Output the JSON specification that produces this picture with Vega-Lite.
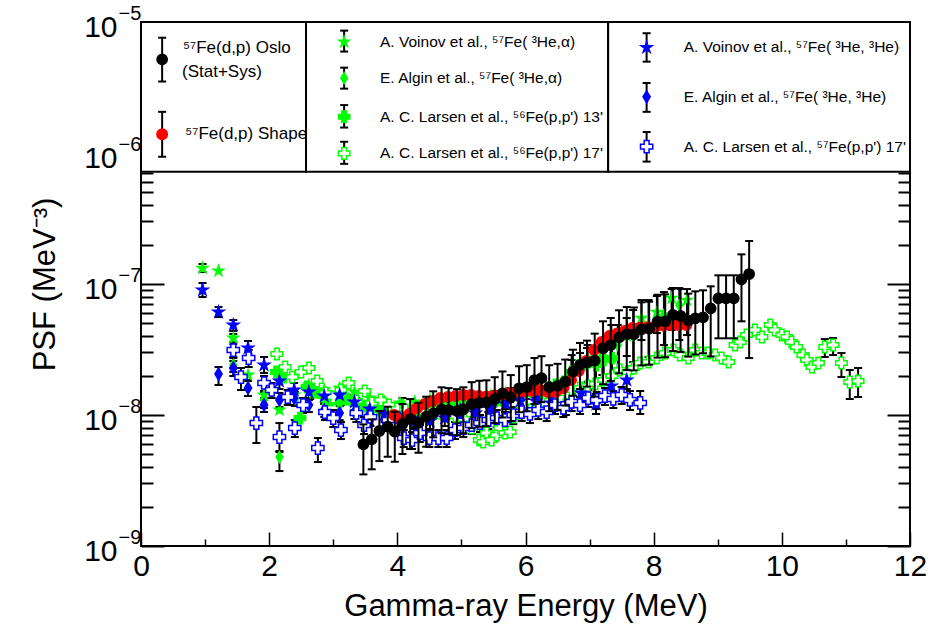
{
  "$schema": "https://vega.github.io/schema/vega-lite/v6.json",
  "width": 769,
  "height": 524,
  "autosize": {"type": "none"},
  "padding": {"left": 141, "top": 22, "right": 20, "bottom": 83},
  "background": "white",
  "config": {
    "view": {"stroke": "black", "strokeWidth": 2},
    "font": "Liberation Sans",
    "axis": {"labelFont": "Liberation Sans", "titleFont": "Liberation Sans", "labelColor": "black", "titleColor": "black", "tickColor": "black"}
  },
  "datasets": {
    "pts": [
      {"s":"va","E":0.96,"v":1.32e-7,"lo":1.235e-7,"hi":1.421e-7},{"s":"va","E":1.21,"v":1.26e-7},{"s":"va","E":1.44,"v":3.87e-8,"lo":3.61e-8,"hi":4.15e-8},{"s":"va","E":1.67,"v":2.019e-8},{"s":"va","E":1.92,"v":1.421e-8},{"s":"va","E":2.16,"v":1.092e-8},{"s":"va","E":2.39,"v":1.421e-8},{"s":"va","E":2.62,"v":1.694e-8},{"s":"va","E":2.86,"v":1.552e-8},{"s":"va","E":3.10,"v":1.607e-8},{"s":"va","E":3.33,"v":1.498e-8},{"s":"va","E":3.57,"v":1.348e-8},{"s":"va","E":3.80,"v":1.257e-8},{"s":"va","E":4.04,"v":1.235e-8},{"s":"va","E":4.27,"v":1.257e-8},{"s":"va","E":4.51,"v":1.302e-8},{"s":"va","E":4.74,"v":1.325e-8},{"s":"va","E":4.98,"v":1.348e-8},{"s":"va","E":5.22,"v":1.348e-8},{"s":"va","E":5.45,"v":1.396e-8},{"s":"va","E":5.69,"v":1.472e-8},{"s":"va","E":5.92,"v":1.498e-8},{"s":"va","E":6.16,"v":1.552e-8},{"s":"va","E":6.40,"v":1.607e-8},{"s":"va","E":6.63,"v":1.849e-8},{"s":"va","E":6.87,"v":2.537e-8},{"s":"va","E":7.10,"v":2.722e-8},{"s":"va","E":7.34,"v":3.543e-8,"lo":2.537e-8,"hi":4.86e-8},{"s":"va","E":7.58,"v":4.007e-8,"lo":2.82e-8,"hi":5.497e-8},{"s":"va","E":7.81,"v":5.497e-8,"lo":3.734e-8,"hi":7.541e-8},{"s":"va","E":8.05,"v":6.108e-8,"lo":4.223e-8,"hi":8.09e-8},{"s":"va","E":8.28,"v":7.811e-8,"lo":4.452e-8,"hi":9.148e-8},{"s":"va","E":8.52,"v":7.541e-8,"lo":4.077e-8,"hi":9.148e-8},

      {"s":"aa","E":1.44,"v":2.407e-8,"lo":2.129e-8,"hi":2.722e-8},{"s":"aa","E":1.67,"v":1.607e-8,"lo":1.396e-8,"hi":1.849e-8},{"s":"aa","E":1.92,"v":1.302e-8,"lo":1.131e-8,"hi":1.472e-8},{"s":"aa","E":2.16,"v":4.776e-9,"lo":3.734e-9,"hi":5.307e-9},{"s":"aa","E":2.40,"v":1.325e-8,"lo":1.171e-8,"hi":1.498e-8},{"s":"aa","E":2.64,"v":1.498e-8,"lo":1.325e-8,"hi":1.694e-8},{"s":"aa","E":2.88,"v":1.213e-8,"lo":1.073e-8,"hi":1.372e-8},{"s":"aa","E":3.12,"v":1.348e-8,"lo":1.192e-8,"hi":1.525e-8},{"s":"aa","E":3.36,"v":1.192e-8,"lo":1.054e-8,"hi":1.348e-8},{"s":"aa","E":3.60,"v":1.092e-8,"lo":9.66e-9,"hi":1.235e-8},{"s":"aa","E":3.84,"v":1.151e-8,"lo":1.018e-8,"hi":1.302e-8},{"s":"aa","E":4.08,"v":1.192e-8,"lo":1.054e-8,"hi":1.348e-8},{"s":"aa","E":4.32,"v":1.092e-8,"lo":9.66e-9,"hi":1.235e-8},{"s":"aa","E":4.56,"v":1.131e-8,"lo":1.0e-8,"hi":1.279e-8},{"s":"aa","E":4.80,"v":1.213e-8,"lo":1.073e-8,"hi":1.372e-8},{"s":"aa","E":5.04,"v":1.257e-8,"lo":1.111e-8,"hi":1.421e-8},{"s":"aa","E":5.28,"v":1.302e-8,"lo":1.151e-8,"hi":1.472e-8},{"s":"aa","E":5.52,"v":1.348e-8,"lo":1.192e-8,"hi":1.525e-8},{"s":"aa","E":5.76,"v":1.421e-8,"lo":1.257e-8,"hi":1.607e-8},{"s":"aa","E":6.00,"v":1.498e-8,"lo":1.325e-8,"hi":1.694e-8},{"s":"aa","E":6.24,"v":1.421e-8,"lo":1.257e-8,"hi":1.607e-8},{"s":"aa","E":6.48,"v":1.552e-8,"lo":1.372e-8,"hi":1.755e-8},{"s":"aa","E":6.72,"v":2.019e-8,"lo":1.498e-8,"hi":2.628e-8},{"s":"aa","E":6.96,"v":2.407e-8,"lo":1.725e-8,"hi":3.245e-8},{"s":"aa","E":7.20,"v":2.869e-8,"lo":2.019e-8,"hi":3.868e-8},{"s":"aa","E":7.44,"v":3.42e-8,"lo":2.285e-8,"hi":4.86e-8},{"s":"aa","E":7.68,"v":4.077e-8,"lo":2.537e-8,"hi":6.326e-8},{"s":"aa","E":7.92,"v":4.692e-8,"lo":2.771e-8,"hi":7.541e-8},{"s":"aa","E":8.16,"v":5.794e-8,"lo":3.42e-8,"hi":8.679e-8},{"s":"aa","E":8.40,"v":6.907e-8,"lo":3.734e-8,"hi":9.311e-8},

      {"s":"l13","E":2.11,"v":2.129e-8},{"s":"l13","E":2.23,"v":1.949e-8},{"s":"l13","E":2.48,"v":9.475e-9},{"s":"l13","E":2.59,"v":1.636e-8},{"s":"l13","E":2.72,"v":1.498e-8},{"s":"l13","E":2.85,"v":1.396e-8},{"s":"l13","E":2.97,"v":1.302e-8},{"s":"l13","E":3.10,"v":1.257e-8},{"s":"l13","E":3.22,"v":1.325e-8},{"s":"l13","E":3.35,"v":1.213e-8},{"s":"l13","E":3.47,"v":1.171e-8},{"s":"l13","E":3.60,"v":1.131e-8},{"s":"l13","E":3.72,"v":1.092e-8},{"s":"l13","E":3.85,"v":1.054e-8},{"s":"l13","E":3.97,"v":1.036e-8},{"s":"l13","E":4.10,"v":1.0e-8},{"s":"l13","E":4.22,"v":1.054e-8},{"s":"l13","E":4.35,"v":1.092e-8},{"s":"l13","E":4.47,"v":1.131e-8},{"s":"l13","E":4.60,"v":1.092e-8},{"s":"l13","E":4.72,"v":1.131e-8},{"s":"l13","E":4.85,"v":1.171e-8},{"s":"l13","E":4.97,"v":1.192e-8},{"s":"l13","E":5.10,"v":1.192e-8},{"s":"l13","E":5.22,"v":1.257e-8},{"s":"l13","E":5.35,"v":1.302e-8},{"s":"l13","E":5.47,"v":1.348e-8},{"s":"l13","E":5.60,"v":1.302e-8},{"s":"l13","E":5.72,"v":1.372e-8},{"s":"l13","E":5.85,"v":1.421e-8},{"s":"l13","E":5.97,"v":1.446e-8},{"s":"l13","E":6.10,"v":1.498e-8},{"s":"l13","E":6.22,"v":1.552e-8},{"s":"l13","E":6.35,"v":1.607e-8},{"s":"l13","E":6.47,"v":1.694e-8},{"s":"l13","E":6.60,"v":1.786e-8},{"s":"l13","E":6.72,"v":2.129e-8,"lo":1.498e-8,"hi":2.869e-8},{"s":"l13","E":6.85,"v":2.285e-8,"lo":1.607e-8,"hi":2.972e-8},{"s":"l13","E":6.97,"v":2.537e-8,"lo":1.786e-8,"hi":3.42e-8},{"s":"l13","E":7.10,"v":2.407e-8,"lo":1.694e-8,"hi":3.245e-8},{"s":"l13","E":7.22,"v":2.628e-8,"lo":1.849e-8,"hi":3.606e-8},{"s":"l13","E":7.35,"v":2.722e-8,"lo":1.915e-8,"hi":3.734e-8},

      {"s":"l17","E":2.12,"v":2.92e-8},{"s":"l17","E":2.25,"v":2.324e-8},{"s":"l17","E":2.36,"v":1.949e-8},{"s":"l17","E":2.50,"v":2.129e-8},{"s":"l17","E":2.62,"v":2.285e-8},{"s":"l17","E":2.75,"v":1.817e-8},{"s":"l17","E":2.88,"v":1.472e-8},{"s":"l17","E":3.00,"v":1.372e-8},{"s":"l17","E":3.12,"v":1.552e-8},{"s":"l17","E":3.24,"v":1.755e-8},{"s":"l17","E":3.36,"v":1.279e-8},{"s":"l17","E":3.49,"v":1.525e-8},{"s":"l17","E":3.60,"v":1.235e-8},{"s":"l17","E":3.74,"v":1.302e-8},{"s":"l17","E":3.87,"v":1.192e-8},{"s":"l17","E":4.00,"v":1.111e-8},{"s":"l17","E":4.13,"v":1.092e-8},{"s":"l17","E":4.26,"v":1.073e-8},{"s":"l17","E":4.39,"v":1.054e-8},{"s":"l17","E":4.52,"v":1.036e-8},{"s":"l17","E":4.65,"v":1.036e-8},{"s":"l17","E":4.78,"v":1.018e-8},{"s":"l17","E":4.91,"v":9.81e-9},{"s":"l17","E":5.04,"v":9.311e-9},{"s":"l17","E":5.16,"v":7.949e-9},{"s":"l17","E":5.28,"v":6.438e-9},{"s":"l17","E":5.34,"v":6.216e-9},{"s":"l17","E":5.39,"v":7.281e-9},{"s":"l17","E":5.47,"v":6.438e-9},{"s":"l17","E":5.55,"v":7.029e-9},{"s":"l17","E":5.60,"v":7.949e-9},{"s":"l17","E":5.68,"v":7.281e-9},{"s":"l17","E":5.76,"v":7.41e-9},{"s":"l17","E":5.81,"v":9.644e-9},{"s":"l17","E":5.89,"v":1.054e-8},{"s":"l17","E":5.97,"v":1.151e-8},{"s":"l17","E":6.08,"v":1.092e-8},{"s":"l17","E":6.20,"v":1.131e-8},{"s":"l17","E":6.33,"v":1.213e-8},{"s":"l17","E":6.45,"v":1.302e-8},{"s":"l17","E":6.55,"v":1.372e-8},{"s":"l17","E":6.64,"v":1.472e-8},{"s":"l17","E":6.72,"v":1.552e-8},{"s":"l17","E":6.85,"v":1.607e-8},{"s":"l17","E":6.97,"v":1.665e-8},{"s":"l17","E":7.09,"v":1.725e-8},{"s":"l17","E":7.22,"v":1.849e-8},{"s":"l17","E":7.35,"v":1.984e-8},{"s":"l17","E":7.47,"v":2.205e-8},{"s":"l17","E":7.60,"v":2.129e-8},{"s":"l17","E":7.69,"v":2.285e-8},{"s":"l17","E":7.79,"v":2.493e-8},{"s":"l17","E":7.92,"v":2.537e-8},{"s":"l17","E":8.05,"v":2.722e-8},{"s":"l17","E":8.18,"v":2.972e-8},{"s":"l17","E":8.31,"v":3.133e-8},{"s":"l17","E":8.41,"v":2.869e-8},{"s":"l17","E":8.54,"v":2.722e-8},{"s":"l17","E":8.65,"v":3.133e-8},{"s":"l17","E":8.75,"v":2.972e-8},{"s":"l17","E":8.85,"v":2.972e-8},{"s":"l17","E":8.96,"v":2.869e-8},{"s":"l17","E":9.06,"v":2.722e-8},{"s":"l17","E":9.17,"v":2.537e-8},{"s":"l17","E":9.27,"v":3.42e-8},{"s":"l17","E":9.35,"v":3.606e-8},{"s":"l17","E":9.45,"v":4.077e-8},{"s":"l17","E":9.58,"v":4.452e-8},{"s":"l17","E":9.69,"v":3.937e-8},{"s":"l17","E":9.82,"v":4.86e-8},{"s":"l17","E":9.89,"v":4.452e-8},{"s":"l17","E":10.00,"v":4.077e-8},{"s":"l17","E":10.08,"v":3.937e-8},{"s":"l17","E":10.15,"v":3.606e-8},{"s":"l17","E":10.23,"v":3.302e-8},{"s":"l17","E":10.33,"v":2.869e-8},{"s":"l17","E":10.39,"v":2.628e-8},{"s":"l17","E":10.47,"v":2.324e-8},{"s":"l17","E":10.57,"v":2.493e-8},{"s":"l17","E":10.67,"v":3.302e-8,"lo":2.771e-8,"hi":3.8e-8},{"s":"l17","E":10.80,"v":3.42e-8,"lo":2.869e-8,"hi":3.868e-8},{"s":"l17","E":10.93,"v":2.493e-8,"lo":1.949e-8,"hi":2.972e-8},{"s":"l17","E":11.06,"v":1.786e-8,"lo":1.325e-8,"hi":2.205e-8},{"s":"l17","E":11.19,"v":1.817e-8,"lo":1.372e-8,"hi":2.285e-8},

      {"s":"v3","E":0.96,"v":8.989e-8,"lo":7.949e-8,"hi":1.018e-7},{"s":"v3","E":1.21,"v":6.108e-8,"lo":5.594e-8,"hi":6.669e-8},{"s":"v3","E":1.44,"v":4.86e-8,"lo":4.374e-8,"hi":5.307e-8},{"s":"v3","E":1.67,"v":3.245e-8,"lo":2.82e-8,"hi":3.67e-8},{"s":"v3","E":1.92,"v":2.407e-8,"lo":2.091e-8,"hi":2.771e-8},{"s":"v3","E":2.16,"v":1.817e-8,"lo":1.579e-8,"hi":2.055e-8},{"s":"v3","E":2.39,"v":1.552e-8,"lo":1.348e-8,"hi":1.755e-8},{"s":"v3","E":2.62,"v":1.498e-8,"lo":1.302e-8,"hi":1.694e-8},{"s":"v3","E":2.86,"v":1.396e-8,"lo":1.213e-8,"hi":1.579e-8},{"s":"v3","E":3.10,"v":1.421e-8,"lo":1.235e-8,"hi":1.607e-8},{"s":"v3","E":3.33,"v":1.257e-8,"lo":1.092e-8,"hi":1.421e-8},{"s":"v3","E":3.57,"v":1.111e-8,"lo":9.66e-9,"hi":1.279e-8},{"s":"v3","E":3.80,"v":1.018e-8,"lo":8.833e-9,"hi":1.171e-8},{"s":"v3","E":4.04,"v":9.475e-9,"lo":8.233e-9,"hi":1.092e-8},{"s":"v3","E":4.27,"v":8.989e-9,"lo":7.811e-9,"hi":1.036e-8},{"s":"v3","E":4.51,"v":8.989e-9,"lo":7.811e-9,"hi":1.036e-8},{"s":"v3","E":4.74,"v":9.475e-9,"lo":8.233e-9,"hi":1.092e-8},{"s":"v3","E":4.98,"v":1.0e-8,"lo":8.679e-9,"hi":1.151e-8},{"s":"v3","E":5.22,"v":1.036e-8,"lo":8.989e-9,"hi":1.192e-8},{"s":"v3","E":5.45,"v":1.111e-8,"lo":9.66e-9,"hi":1.279e-8},{"s":"v3","E":5.69,"v":1.213e-8,"lo":1.054e-8,"hi":1.396e-8},{"s":"v3","E":5.92,"v":1.279e-8,"lo":1.111e-8,"hi":1.472e-8},{"s":"v3","E":6.16,"v":1.279e-8,"lo":1.111e-8,"hi":1.472e-8},{"s":"v3","E":6.40,"v":1.235e-8,"lo":1.054e-8,"hi":1.421e-8},{"s":"v3","E":6.63,"v":1.171e-8,"lo":1.0e-8,"hi":1.372e-8},{"s":"v3","E":6.87,"v":1.472e-8,"lo":1.257e-8,"hi":1.725e-8},{"s":"v3","E":7.10,"v":1.213e-8,"lo":1.018e-8,"hi":1.446e-8},{"s":"v3","E":7.34,"v":1.665e-8,"lo":1.421e-8,"hi":1.949e-8},{"s":"v3","E":7.58,"v":1.849e-8,"lo":1.579e-8,"hi":2.166e-8},

      {"s":"a3","E":1.21,"v":2.055e-8,"lo":1.694e-8,"hi":2.324e-8},{"s":"a3","E":1.44,"v":2.285e-8,"lo":1.984e-8,"hi":2.582e-8},{"s":"a3","E":1.67,"v":1.607e-8,"lo":1.396e-8,"hi":1.817e-8},{"s":"a3","E":1.92,"v":1.192e-8,"lo":1.054e-8,"hi":1.348e-8},{"s":"a3","E":2.16,"v":1.302e-8,"lo":1.151e-8,"hi":1.472e-8},{"s":"a3","E":2.39,"v":1.348e-8,"lo":1.192e-8,"hi":1.525e-8},{"s":"a3","E":2.62,"v":1.192e-8,"lo":1.054e-8,"hi":1.348e-8},{"s":"a3","E":2.86,"v":1.092e-8,"lo":9.66e-9,"hi":1.235e-8},{"s":"a3","E":3.10,"v":1.036e-8,"lo":9.148e-9,"hi":1.171e-8},{"s":"a3","E":3.33,"v":1.054e-8,"lo":9.311e-9,"hi":1.192e-8},{"s":"a3","E":3.57,"v":9.475e-9,"lo":8.379e-9,"hi":1.073e-8},{"s":"a3","E":3.80,"v":9.148e-9,"lo":8.09e-9,"hi":1.036e-8},{"s":"a3","E":4.04,"v":8.833e-9,"lo":7.811e-9,"hi":1.0e-8},{"s":"a3","E":4.27,"v":9.148e-9,"lo":8.09e-9,"hi":1.036e-8},{"s":"a3","E":4.51,"v":9.66e-9,"lo":8.528e-9,"hi":1.092e-8},{"s":"a3","E":4.74,"v":1.036e-8,"lo":9.148e-9,"hi":1.171e-8},{"s":"a3","E":4.98,"v":1.092e-8,"lo":9.66e-9,"hi":1.235e-8},{"s":"a3","E":5.22,"v":1.131e-8,"lo":1.0e-8,"hi":1.279e-8},{"s":"a3","E":5.45,"v":1.171e-8,"lo":1.036e-8,"hi":1.325e-8},{"s":"a3","E":5.69,"v":1.257e-8,"lo":1.111e-8,"hi":1.421e-8},{"s":"a3","E":5.92,"v":1.325e-8,"lo":1.171e-8,"hi":1.498e-8},{"s":"a3","E":6.16,"v":1.372e-8,"lo":1.213e-8,"hi":1.552e-8},{"s":"a3","E":6.40,"v":1.421e-8,"lo":1.257e-8,"hi":1.607e-8},

      {"s":"l57","E":1.44,"v":3.133e-8,"lo":2.771e-8,"hi":3.481e-8},{"s":"l57","E":1.56,"v":1.949e-8,"lo":1.552e-8,"hi":2.285e-8},{"s":"l57","E":1.68,"v":2.722e-8,"lo":2.324e-8,"hi":3.133e-8},{"s":"l57","E":1.80,"v":8.679e-9,"lo":6.108e-9,"hi":1.151e-8},{"s":"l57","E":1.92,"v":1.755e-8,"lo":1.525e-8,"hi":1.984e-8},{"s":"l57","E":2.04,"v":1.552e-8,"lo":1.348e-8,"hi":1.755e-8},{"s":"l57","E":2.16,"v":6.787e-9,"lo":5.214e-9,"hi":8.679e-9},{"s":"l57","E":2.29,"v":1.372e-8,"lo":1.192e-8,"hi":1.552e-8},{"s":"l57","E":2.40,"v":7.949e-9,"lo":6.787e-9,"hi":9.148e-9},{"s":"l57","E":2.53,"v":1.192e-8,"lo":1.036e-8,"hi":1.348e-8},{"s":"l57","E":2.76,"v":5.594e-9,"lo":4.374e-9,"hi":6.669e-9},{"s":"l57","E":2.87,"v":1.054e-8,"lo":9.148e-9,"hi":1.213e-8},{"s":"l57","E":3.00,"v":9.475e-9,"lo":8.09e-9,"hi":1.092e-8},{"s":"l57","E":3.12,"v":7.674e-9,"lo":6.552e-9,"hi":8.833e-9},{"s":"l57","E":3.36,"v":1.036e-8,"lo":8.833e-9,"hi":1.192e-8},{"s":"l57","E":3.48,"v":8.379e-9,"lo":7.154e-9,"hi":9.66e-9},{"s":"l57","E":3.58,"v":9.66e-9,"lo":8.233e-9,"hi":1.111e-8},{"s":"l57","E":3.86,"v":9.148e-9,"lo":7.811e-9,"hi":1.054e-8},{"s":"l57","E":4.10,"v":6.669e-9,"lo":5.694e-9,"hi":7.674e-9},{"s":"l57","E":4.23,"v":6.438e-9,"lo":5.497e-9,"hi":7.41e-9},{"s":"l57","E":4.35,"v":7.281e-9,"lo":6.216e-9,"hi":8.379e-9},{"s":"l57","E":4.50,"v":6.669e-9,"lo":5.694e-9,"hi":7.674e-9},{"s":"l57","E":4.64,"v":6.669e-9,"lo":5.694e-9,"hi":7.674e-9},{"s":"l57","E":4.77,"v":6.669e-9,"lo":5.694e-9,"hi":7.674e-9},{"s":"l57","E":4.90,"v":7.674e-9,"lo":6.552e-9,"hi":8.833e-9},{"s":"l57","E":5.03,"v":7.949e-9,"lo":6.787e-9,"hi":9.148e-9},{"s":"l57","E":5.16,"v":8.379e-9,"lo":7.154e-9,"hi":9.66e-9},{"s":"l57","E":5.29,"v":8.679e-9,"lo":7.41e-9,"hi":1.0e-8},{"s":"l57","E":5.42,"v":9.148e-9,"lo":7.811e-9,"hi":1.054e-8},{"s":"l57","E":5.55,"v":9.475e-9,"lo":8.09e-9,"hi":1.092e-8},{"s":"l57","E":5.68,"v":9.148e-9,"lo":7.811e-9,"hi":1.054e-8},{"s":"l57","E":5.81,"v":1.0e-8,"lo":8.528e-9,"hi":1.151e-8},{"s":"l57","E":5.94,"v":1.054e-8,"lo":8.989e-9,"hi":1.213e-8},{"s":"l57","E":6.07,"v":1.018e-8,"lo":8.679e-9,"hi":1.171e-8},{"s":"l57","E":6.20,"v":1.092e-8,"lo":9.311e-9,"hi":1.257e-8},{"s":"l57","E":6.33,"v":1.054e-8,"lo":8.989e-9,"hi":1.213e-8},{"s":"l57","E":6.46,"v":1.192e-8,"lo":1.018e-8,"hi":1.372e-8},{"s":"l57","E":6.59,"v":1.131e-8,"lo":9.66e-9,"hi":1.302e-8},{"s":"l57","E":6.72,"v":1.257e-8,"lo":1.073e-8,"hi":1.446e-8},{"s":"l57","E":6.85,"v":1.192e-8,"lo":1.018e-8,"hi":1.372e-8},{"s":"l57","E":6.98,"v":1.348e-8,"lo":1.151e-8,"hi":1.552e-8},{"s":"l57","E":7.11,"v":1.302e-8,"lo":1.111e-8,"hi":1.498e-8},{"s":"l57","E":7.24,"v":1.396e-8,"lo":1.192e-8,"hi":1.607e-8},{"s":"l57","E":7.37,"v":1.325e-8,"lo":1.131e-8,"hi":1.525e-8},{"s":"l57","E":7.50,"v":1.421e-8,"lo":1.213e-8,"hi":1.636e-8},{"s":"l57","E":7.63,"v":1.302e-8,"lo":1.092e-8,"hi":1.525e-8},{"s":"l57","E":7.79,"v":1.235e-8,"lo":1.018e-8,"hi":1.525e-8},

      {"s":"shape","E":3.95,"v":1.0e-8},{"s":"shape","E":4.07,"v":9.16e-9},{"s":"shape","E":4.19,"v":1.018e-8},{"s":"shape","E":4.31,"v":1.131e-8},{"s":"shape","E":4.43,"v":1.213e-8},{"s":"shape","E":4.55,"v":1.279e-8},{"s":"shape","E":4.67,"v":1.348e-8},{"s":"shape","E":4.79,"v":1.372e-8},{"s":"shape","E":4.91,"v":1.396e-8},{"s":"shape","E":5.03,"v":1.421e-8},{"s":"shape","E":5.15,"v":1.421e-8},{"s":"shape","E":5.27,"v":1.396e-8},{"s":"shape","E":5.39,"v":1.384e-8},{"s":"shape","E":5.51,"v":1.409e-8},{"s":"shape","E":5.63,"v":1.434e-8},{"s":"shape","E":5.75,"v":1.472e-8},{"s":"shape","E":5.87,"v":1.498e-8},{"s":"shape","E":5.99,"v":1.511e-8},{"s":"shape","E":6.11,"v":1.525e-8},{"s":"shape","E":6.23,"v":1.552e-8},{"s":"shape","E":6.35,"v":1.498e-8},{"s":"shape","E":6.47,"v":1.498e-8},{"s":"shape","E":6.59,"v":1.607e-8},{"s":"shape","E":6.71,"v":1.85e-8},{"s":"shape","E":6.83,"v":2.168e-8},{"s":"shape","E":6.95,"v":2.584e-8},{"s":"shape","E":7.07,"v":3.134e-8},{"s":"shape","E":7.19,"v":3.608e-8},{"s":"shape","E":7.31,"v":4.009e-8},{"s":"shape","E":7.43,"v":4.19e-8},{"s":"shape","E":7.55,"v":4.377e-8},{"s":"shape","E":7.67,"v":4.614e-8},{"s":"shape","E":7.79,"v":4.656e-8},{"s":"shape","E":7.91,"v":4.697e-8},{"s":"shape","E":8.03,"v":4.738e-8},{"s":"shape","E":8.15,"v":4.822e-8},{"s":"shape","E":8.27,"v":4.864e-8},{"s":"shape","E":8.39,"v":4.864e-8},{"s":"shape","E":8.51,"v":4.864e-8},

      {"s":"oslo","E":3.47,"v":5.97e-9,"lo":3.52e-9,"hi":8.48e-9},{"s":"oslo","E":3.60,"v":6.52e-9,"lo":3.85e-9,"hi":9.26e-9},{"s":"oslo","E":3.72,"v":7.55e-9,"lo":4.45e-9,"hi":1.073e-8},{"s":"oslo","E":3.85,"v":8.14e-9,"lo":4.8e-9,"hi":1.157e-8},{"s":"oslo","E":3.96,"v":7.46e-9,"lo":4.4e-9,"hi":1.06e-8},{"s":"oslo","E":4.08,"v":8.54e-9,"lo":5.04e-9,"hi":1.214e-8},{"s":"oslo","E":4.20,"v":9.32e-9,"lo":5.5e-9,"hi":1.324e-8},{"s":"oslo","E":4.33,"v":8.73e-9,"lo":5.15e-9,"hi":1.24e-8},{"s":"oslo","E":4.45,"v":9.71e-9,"lo":5.73e-9,"hi":1.38e-8},{"s":"oslo","E":4.56,"v":1.03e-8,"lo":6.76e-9,"hi":1.516e-8},{"s":"oslo","E":4.69,"v":1.105e-8,"lo":7.25e-9,"hi":1.627e-8},{"s":"oslo","E":4.80,"v":1.09e-8,"lo":7.15e-9,"hi":1.604e-8},{"s":"oslo","E":4.93,"v":1.07e-8,"lo":7.02e-9,"hi":1.575e-8},{"s":"oslo","E":5.03,"v":1.105e-8,"lo":7.25e-9,"hi":1.627e-8},{"s":"oslo","E":5.16,"v":1.21e-8,"lo":7.94e-9,"hi":1.781e-8},{"s":"oslo","E":5.28,"v":1.24e-8,"lo":8.13e-9,"hi":1.825e-8},{"s":"oslo","E":5.39,"v":1.25e-8,"lo":8.2e-9,"hi":1.84e-8},{"s":"oslo","E":5.52,"v":1.32e-8,"lo":8.66e-9,"hi":1.943e-8},{"s":"oslo","E":5.64,"v":1.46e-8,"lo":9.58e-9,"hi":2.149e-8},{"s":"oslo","E":5.77,"v":1.37e-8,"lo":8.99e-9,"hi":2.017e-8},{"s":"oslo","E":5.90,"v":1.6e-8,"lo":1.05e-8,"hi":2.355e-8},{"s":"oslo","E":6.02,"v":1.63e-8,"lo":1.069e-8,"hi":2.4e-8},{"s":"oslo","E":6.14,"v":1.85e-8,"lo":1.214e-8,"hi":2.723e-8},{"s":"oslo","E":6.25,"v":1.91e-8,"lo":1.253e-8,"hi":2.81e-8},{"s":"oslo","E":6.37,"v":1.63e-8,"lo":1.069e-8,"hi":2.4e-8},{"s":"oslo","E":6.50,"v":1.67e-8,"lo":1.096e-8,"hi":2.458e-8},{"s":"oslo","E":6.62,"v":1.8e-8,"lo":1.181e-8,"hi":2.65e-8},{"s":"oslo","E":6.74,"v":2.14e-8,"lo":1.404e-8,"hi":3.15e-8},{"s":"oslo","E":6.85,"v":2.41e-8,"lo":1.581e-8,"hi":3.548e-8},{"s":"oslo","E":6.96,"v":2.51e-8,"lo":1.647e-8,"hi":3.695e-8},{"s":"oslo","E":7.08,"v":2.6e-8,"lo":1.381e-8,"hi":4.18e-8},{"s":"oslo","E":7.21,"v":3.23e-8,"lo":1.715e-8,"hi":5.19e-8},{"s":"oslo","E":7.33,"v":3.42e-8,"lo":1.816e-8,"hi":5.5e-8},{"s":"oslo","E":7.46,"v":3.92e-8,"lo":2.08e-8,"hi":6.3e-8},{"s":"oslo","E":7.58,"v":4.15e-8,"lo":2.2e-8,"hi":6.67e-8},{"s":"oslo","E":7.69,"v":4.12e-8,"lo":2.19e-8,"hi":6.62e-8},{"s":"oslo","E":7.81,"v":4.51e-8,"lo":2.39e-8,"hi":7.25e-8},{"s":"oslo","E":7.93,"v":4.56e-8,"lo":2.42e-8,"hi":7.33e-8},{"s":"oslo","E":8.06,"v":5.155e-8,"lo":2.74e-8,"hi":8.28e-8},{"s":"oslo","E":8.18,"v":5.19e-8,"lo":2.76e-8,"hi":8.34e-8},{"s":"oslo","E":8.30,"v":5.8e-8,"lo":3.08e-8,"hi":9.32e-8},{"s":"oslo","E":8.42,"v":5.7e-8,"lo":3.03e-8,"hi":9.16e-8},{"s":"oslo","E":8.54,"v":5.25e-8,"lo":2.79e-8,"hi":8.44e-8},{"s":"oslo","E":8.65,"v":5.47e-8,"lo":2.9e-8,"hi":8.79e-8},{"s":"oslo","E":8.77,"v":5.57e-8,"lo":2.96e-8,"hi":8.95e-8},{"s":"oslo","E":8.89,"v":6.52e-8,"lo":2.8e-8,"hi":9.6e-8},{"s":"oslo","E":9.01,"v":7.78e-8,"lo":3.85e-8,"hi":1.165e-7},{"s":"oslo","E":9.13,"v":7.78e-8,"lo":3.85e-8,"hi":1.165e-7},{"s":"oslo","E":9.25,"v":7.78e-8,"lo":3.85e-8,"hi":1.165e-7},{"s":"oslo","E":9.37,"v":1.086e-7,"lo":5.19e-8,"hi":1.684e-7},{"s":"oslo","E":9.49,"v":1.192e-7,"lo":2.72e-8,"hi":2.129e-7}
    ],
    "legbox": [
      {"x1": 0, "x2": 2.575, "y1": 0, "y2": 4.0},
      {"x1": 2.575, "x2": 7.29, "y1": 0, "y2": 4.0},
      {"x1": 7.29, "x2": 12, "y1": 0, "y2": 4.0}
    ],
    "legsym": [
      {"s":"oslo","lx":0.33,"ly":1.0,"ly1":0.42,"ly2":1.59},
      {"s":"shape","lx":0.33,"ly":3.0,"ly1":2.4,"ly2":3.6},
      {"s":"va","lx":3.17,"ly":0.53,"ly1":0.23,"ly2":0.79},
      {"s":"aa","lx":3.17,"ly":1.5,"ly1":1.22,"ly2":1.78},
      {"s":"l13","lx":3.17,"ly":2.53,"ly1":2.22,"ly2":2.82},
      {"s":"l17","lx":3.17,"ly":3.51,"ly1":3.2,"ly2":3.79},
      {"s":"v3","lx":7.89,"ly":0.68,"ly1":0.3,"ly2":1.06},
      {"s":"a3","lx":7.89,"ly":2.0,"ly1":1.63,"ly2":2.4},
      {"s":"l57","lx":7.89,"ly":3.33,"ly1":2.94,"ly2":3.73}
    ],
    "legtxt": [
      {"col":1,"lx":0.655,"ly":0.69,"t":"⁵⁷Fe(d,p) Oslo"},
      {"col":1,"lx":0.64,"ly":1.34,"t":"(Stat+Sys)"},
      {"col":1,"lx":0.69,"ly":2.99,"t":"⁵⁷Fe(d,p) Shape"},
      {"col":2,"lx":3.73,"ly":0.53,"t":"A. Voinov et al., ⁵⁷Fe( ³He,α)"},
      {"col":2,"lx":3.73,"ly":1.5,"t":"E. Algin et al., ⁵⁷Fe( ³He,α)"},
      {"col":2,"lx":3.73,"ly":2.53,"t":"A. C. Larsen et al., ⁵⁶Fe(p,p') 13'"},
      {"col":2,"lx":3.73,"ly":3.51,"t":"A. C. Larsen et al., ⁵⁶Fe(p,p') 17'"},
      {"col":3,"lx":8.47,"ly":0.68,"t":"A. Voinov et al., ⁵⁷Fe( ³He, ³He)"},
      {"col":3,"lx":8.47,"ly":2.0,"t":"E. Algin et al., ⁵⁷Fe( ³He, ³He)"},
      {"col":3,"lx":8.47,"ly":3.33,"t":"A. C. Larsen et al., ⁵⁷Fe(p,p') 17'"}
    ]
  },
  "layer": [
    {
      "data": {"name": "pts"},
      "resolve": {"axis": {"y": "independent"}},
      "layer": [
        {
          "transform": [{"filter": "isValid(datum.lo) && datum.s !== 'oslo'"}],
          "mark": {"type": "rule", "color": "black", "strokeWidth": 2},
          "encoding": {
            "x": {"field": "E", "type": "quantitative",
              "scale": {"domain": [0, 12], "nice": false, "zero": false},
              "axis": {
                "values": [0,0.5,1,1.5,2,2.5,3,3.5,4,4.5,5,5.5,6,6.5,7,7.5,8,8.5,9,9.5,10,10.5,11,11.5,12],
                "domain": false, "grid": false,
                "tickSize": {"condition": {"test": "datum.value % 2 === 0", "value": -14}, "value": -7},
                "tickWidth": 1.5,
                "labelExpr": "datum.value % 2 === 0 ? format(datum.value, 'd') : ''",
                "labelFontSize": 30, "labelPadding": 19, "labelFlush": false, "labelOverlap": false, "labelBound": false,
                "title": "Gamma-ray Energy (MeV)", "titleFontSize": 31, "titleFontWeight": "normal", "titlePadding": 3
              }
            },
            "y": {"field": "lo", "type": "quantitative",
              "scale": {"type": "log", "domain": [1e-9, 1e-5], "nice": false},
              "axis": {
                "values": [1e-9,2e-9,3e-9,4e-9,5e-9,6e-9,7e-9,8e-9,9e-9,1e-8,2e-8,3e-8,4e-8,5e-8,6e-8,7e-8,8e-8,9e-8,1e-7,2e-7,3e-7,4e-7,5e-7,6e-7,7e-7,8e-7,9e-7,1e-6,2e-6,3e-6,4e-6,5e-6,6e-6,7e-6,8e-6,9e-6,1e-5],
                "domain": false, "grid": false, "orient": "left",
                "tickSize": {"condition": {"test": "abs(log(datum.value)/LN10 - round(log(datum.value)/LN10)) < 0.001", "value": -23}, "value": -12},
                "tickWidth": 2,
                "labelExpr": "abs(log(datum.value)/LN10 - round(log(datum.value)/LN10)) < 0.001 ? '10' : ''",
                "labelFontSize": 30, "labelPadding": 47, "labelOffset": 5, "labelOverlap": false, "labelBound": false, "labelFlush": false,
                "title": "PSF (MeV⁻³)", "titleFontSize": 31, "titleFontWeight": "normal", "titlePadding": 22
              }
            },
            "y2": {"field": "hi"}
          }
        },
        {
          "transform": [{"filter": "isValid(datum.lo) && datum.s !== 'oslo'"}],
          "mark": {"type": "tick", "orient": "horizontal", "color": "black", "size": 8, "thickness": 2, "opacity": 1},
          "encoding": {
            "x": {"field": "E", "type": "quantitative"},
            "y": {"field": "lo", "type": "quantitative", "axis": null}
          }
        },
        {
          "transform": [{"filter": "isValid(datum.hi) && datum.s !== 'oslo'"}],
          "mark": {"type": "tick", "orient": "horizontal", "color": "black", "size": 8, "thickness": 2, "opacity": 1},
          "encoding": {
            "x": {"field": "E", "type": "quantitative"},
            "y": {"field": "hi", "type": "quantitative", "axis": null}
          }
        },
        {
          "transform": [{"filter": "datum.s !== 'oslo'"}],
          "mark": {"type": "point", "opacity": 1, "strokeWidth": 1.5},
          "encoding": {
            "x": {"field": "E", "type": "quantitative"},
            "y": {"field": "v", "type": "quantitative",
              "axis": {
                "orient": "right",
                "values": [1e-9,2e-9,3e-9,4e-9,5e-9,6e-9,7e-9,8e-9,9e-9,1e-8,2e-8,3e-8,4e-8,5e-8,6e-8,7e-8,8e-8,9e-8,1e-7,2e-7,3e-7,4e-7,5e-7,6e-7,7e-7,8e-7,9e-7,1e-6,2e-6,3e-6,4e-6,5e-6,6e-6,7e-6,8e-6,9e-6,1e-5],
                "domain": false, "grid": false, "labels": false, "title": null,
                "tickSize": {"condition": {"test": "abs(log(datum.value)/LN10 - round(log(datum.value)/LN10)) < 0.001", "value": -23}, "value": -12},
                "tickWidth": 2
              }
            },
            "shape": {"field": "s", "type": "nominal", "legend": null,
              "scale": {"domain": ["oslo","shape","va","aa","l13","l17","v3","a3","l57"],
                "range": ["circle","circle","M0,-1L0.2245,-0.309L0.951,-0.309L0.363,0.118L0.588,0.809L0,0.382L-0.588,0.809L-0.363,0.118L-0.951,-0.309L-0.2245,-0.309Z","M0,-1L0.6,0L0,1L-0.6,0Z","cross","cross","M0,-1L0.2245,-0.309L0.951,-0.309L0.363,0.118L0.588,0.809L0,0.382L-0.588,0.809L-0.363,0.118L-0.951,-0.309L-0.2245,-0.309Z","M0,-1L0.6,0L0,1L-0.6,0Z","cross"]}},
            "fill": {"field": "s", "type": "nominal", "legend": null,
              "scale": {"domain": ["oslo","shape","va","aa","l13","l17","v3","a3","l57"],
                "range": ["#000000","#ff0000","#00ff00","#00ff00","#00ff00","#ffffff","#0000ff","#0000ff","#ffffff"]}},
            "stroke": {"field": "s", "type": "nominal", "legend": null,
              "scale": {"domain": ["oslo","shape","va","aa","l13","l17","v3","a3","l57"],
                "range": ["#000000","#ff0000","#00ff00","#00ff00","#00ff00","#00ff00","#0000ff","#0000ff","#0000ff"]}},
            "size": {"field": "s", "type": "nominal", "legend": null,
              "scale": {"domain": ["oslo","shape","va","aa","l13","l17","v3","a3","l57"],
                "range": [105, 150, 110, 120, 100, 100, 110, 120, 100]}}
          }
        },
        {
          "transform": [{"filter": "datum.s === 'oslo'"}],
          "mark": {"type": "rule", "color": "black", "strokeWidth": 2},
          "encoding": {
            "x": {"field": "E", "type": "quantitative"},
            "y": {"field": "lo", "type": "quantitative",
              "axis": {
                "orient": "left",
                "values": [1e-9, 1e-8, 1e-7, 1e-6, 1e-5],
                "domain": false, "grid": false, "ticks": false, "title": null,
                "labelExpr": "'−' + format(-round(log(datum.value)/LN10), 'd')",
                "labelFontSize": 20, "labelAlign": "left", "labelPadding": 23, "labelOffset": -9,
                "labelOverlap": false, "labelBound": false, "labelFlush": false
              }
            },
            "y2": {"field": "hi"}
          }
        },
        {
          "transform": [{"filter": "datum.s === 'oslo'"}],
          "mark": {"type": "tick", "orient": "horizontal", "color": "black", "size": 8, "thickness": 2, "opacity": 1},
          "encoding": {
            "x": {"field": "E", "type": "quantitative"},
            "y": {"field": "lo", "type": "quantitative", "axis": null}
          }
        },
        {
          "transform": [{"filter": "datum.s === 'oslo'"}],
          "mark": {"type": "tick", "orient": "horizontal", "color": "black", "size": 8, "thickness": 2, "opacity": 1},
          "encoding": {
            "x": {"field": "E", "type": "quantitative"},
            "y": {"field": "hi", "type": "quantitative", "axis": null}
          }
        },
        {
          "transform": [{"filter": "datum.s === 'oslo'"}],
          "mark": {"type": "point", "opacity": 1, "strokeWidth": 1.5},
          "encoding": {
            "x": {"field": "E", "type": "quantitative"},
            "y": {"field": "v", "type": "quantitative", "axis": null},
            "shape": {"field": "s", "type": "nominal", "legend": null},
            "fill": {"field": "s", "type": "nominal", "legend": null},
            "stroke": {"field": "s", "type": "nominal", "legend": null},
            "size": {"field": "s", "type": "nominal", "legend": null}
          }
        }
      ]
    },
    {
      "layer": [
        {
          "data": {"name": "legbox"},
          "mark": {"type": "rect", "fill": "white", "stroke": "black", "strokeWidth": 2},
          "encoding": {
            "x": {"field": "x1", "type": "quantitative", "scale": {"domain": [0, 12], "nice": false, "zero": false}, "axis": null},
            "x2": {"field": "x2"},
            "y": {"field": "y1", "type": "quantitative", "scale": {"domain": [0, 14], "reverse": true, "nice": false, "zero": false}, "axis": null},
            "y2": {"field": "y2"}
          }
        },
        {
          "data": {"name": "legsym"},
          "mark": {"type": "rule", "color": "black", "strokeWidth": 2},
          "encoding": {
            "x": {"field": "lx", "type": "quantitative"},
            "y": {"field": "ly1", "type": "quantitative"},
            "y2": {"field": "ly2"}
          }
        },
        {
          "data": {"name": "legsym"},
          "mark": {"type": "tick", "orient": "horizontal", "color": "black", "size": 8, "thickness": 2, "opacity": 1},
          "encoding": {
            "x": {"field": "lx", "type": "quantitative"},
            "y": {"field": "ly1", "type": "quantitative"}
          }
        },
        {
          "data": {"name": "legsym"},
          "mark": {"type": "tick", "orient": "horizontal", "color": "black", "size": 8, "thickness": 2, "opacity": 1},
          "encoding": {
            "x": {"field": "lx", "type": "quantitative"},
            "y": {"field": "ly2", "type": "quantitative"}
          }
        },
        {
          "data": {"name": "legsym"},
          "mark": {"type": "point", "opacity": 1, "strokeWidth": 1.5},
          "encoding": {
            "x": {"field": "lx", "type": "quantitative"},
            "y": {"field": "ly", "type": "quantitative"},
            "shape": {"field": "s", "type": "nominal", "legend": null},
            "fill": {"field": "s", "type": "nominal", "legend": null},
            "stroke": {"field": "s", "type": "nominal", "legend": null},
            "size": {"field": "s", "type": "nominal", "legend": null}
          }
        },
        {
          "data": {"name": "legtxt"},
          "transform": [{"filter": "datum.col === 1"}],
          "mark": {"type": "text", "align": "left", "baseline": "middle", "font": "Liberation Sans", "fontSize": 17, "color": "black"},
          "encoding": {
            "x": {"field": "lx", "type": "quantitative"},
            "y": {"field": "ly", "type": "quantitative"},
            "text": {"field": "t"}
          }
        },
        {
          "data": {"name": "legtxt"},
          "transform": [{"filter": "datum.col !== 1"}],
          "mark": {"type": "text", "align": "left", "baseline": "middle", "font": "Liberation Sans", "fontSize": 15.5, "color": "black"},
          "encoding": {
            "x": {"field": "lx", "type": "quantitative"},
            "y": {"field": "ly", "type": "quantitative"},
            "text": {"field": "t"}
          }
        }
      ]
    }
  ],
  "resolve": {"scale": {"x": "independent", "y": "independent"}}
}
